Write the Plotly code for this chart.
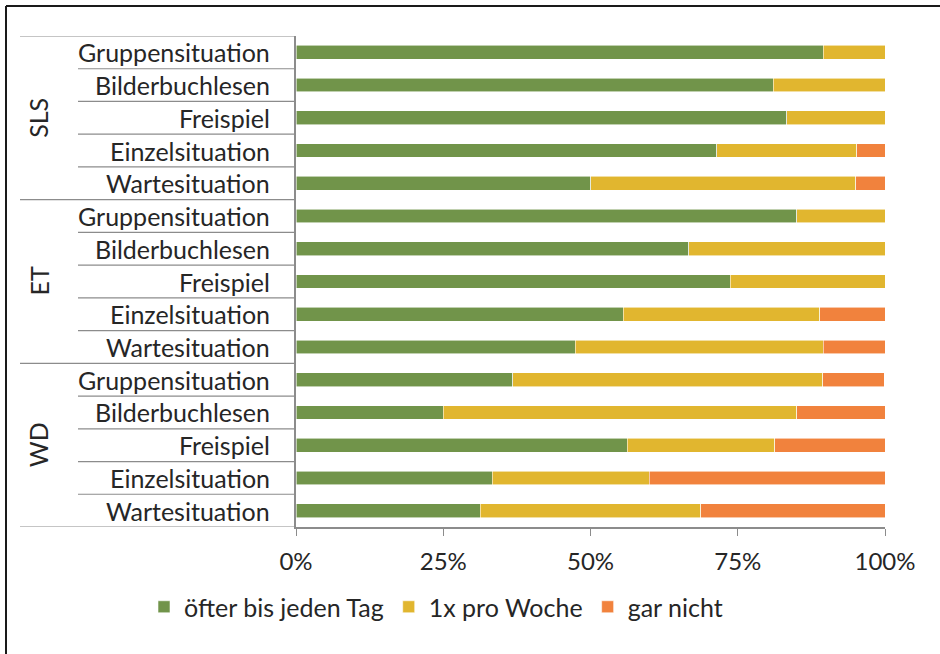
import plotly.graph_objects as go

groups = ["SLS", "ET", "WD"]
situations = ["Gruppensituation", "Bilderbuchlesen", "Freispiel", "Einzelsituation", "Wartesituation"]
series_names = ["öfter bis jeden Tag", "1x pro Woche", "gar nicht"]
colors = ["#71944A", "#E1B62F", "#F1823D"]

# shares per group, in the order of `situations`
taeglich = {
    "SLS": [0.895, 0.810, 0.833, 0.714, 0.500],
    "ET":  [0.850, 0.667, 0.737, 0.556, 0.474],
    "WD":  [0.368, 0.250, 0.5625, 0.333, 0.3125],
}
woechentlich = {
    "SLS": [0.105, 0.190, 0.167, 0.238, 0.450],
    "ET":  [0.150, 0.333, 0.263, 0.333, 0.421],
    "WD":  [0.526, 0.600, 0.250, 0.267, 0.375],
}
gar_nicht = {
    "SLS": [0.000, 0.000, 0.000, 0.048, 0.050],
    "ET":  [0.000, 0.000, 0.000, 0.111, 0.105],
    "WD":  [0.105, 0.150, 0.1875, 0.400, 0.3125],
}
x_ticks = [0, 0.25, 0.5, 0.75, 1.0]
x_tick_labels = ["0%", "25%", "50%", "75%", "100%"]

FONT = "Lato, 'Open Sans', sans-serif"
TEXT = "#262626"
LINE = "#8c8c8c"

rows = []
row_labels = []
for g in groups:
    for s in situations:
        rows.append(len(rows))
        row_labels.append(s)

def flat(d):
    out = []
    for g in groups:
        out.extend(d[g])
    return out

fig = go.Figure()
for name, col, data in zip(series_names, colors, [taeglich, woechentlich, gar_nicht]):
    fig.add_trace(go.Bar(
        y=rows, x=flat(data), name=name, orientation="h",
        marker=dict(color=col, line=dict(color="rgba(255,255,255,0.7)", width=0.8)),
    ))

# geometry (pixels)
W, H = 940, 654
L, R, T, B = 296, 55, 36, 127
pw = W - L - R
ph = H - T - B

def px_to_paper_x(px):
    return (px - L) / pw

def px_to_paper_y(py):
    return (H - B - py) / ph

annotations = []
for r, lab in zip(rows, row_labels):
    annotations.append(dict(
        x=px_to_paper_x(272), xref="paper", y=r, yref="y",
        text=lab, showarrow=False, xanchor="right", yanchor="middle",
        font=dict(family=FONT, size=25, color=TEXT),
    ))
n = len(situations)
for gi, g in enumerate(groups):
    annotations.append(dict(
        x=px_to_paper_x(38), xref="paper", y=gi * n + (n - 1) / 2, yref="y",
        text=g, showarrow=False, textangle=-90, xanchor="center", yanchor="middle",
        font=dict(family=FONT, size=25, color=TEXT),
    ))

shapes = []
for b in range(len(rows) + 1):
    yb = b - 0.5
    x0 = px_to_paper_x(20) if b % n == 0 else px_to_paper_x(78)
    shapes.append(dict(type="line", xref="paper", yref="y", x0=x0, x1=0,
                       y0=yb, y1=yb, line=dict(color=LINE, width=1.2)))
# outer frame (left and top visible)
shapes.append(dict(type="line", xref="paper", yref="paper",
                   x0=px_to_paper_x(6), x1=px_to_paper_x(945),
                   y0=px_to_paper_y(6), y1=px_to_paper_y(6),
                   line=dict(color="#1a1a1a", width=2)))
shapes.append(dict(type="line", xref="paper", yref="paper",
                   x0=px_to_paper_x(6), x1=px_to_paper_x(6),
                   y0=px_to_paper_y(6), y1=px_to_paper_y(660),
                   line=dict(color="#1a1a1a", width=2)))

fig.update_layout(
    width=W, height=H,
    margin=dict(l=L, r=R, t=T, b=B),
    barmode="stack", bargap=0.58,
    plot_bgcolor="white", paper_bgcolor="white",
    font=dict(family=FONT, size=24, color=TEXT),
    showlegend=True,
    legend=dict(orientation="h", x=px_to_paper_x(436), xanchor="center",
                y=px_to_paper_y(607), yanchor="middle",
                font=dict(family=FONT, size=25, color=TEXT),
                traceorder="normal", itemclick=False),
    annotations=annotations,
    shapes=shapes,
)
fig.update_xaxes(range=[0, 1], tickvals=x_ticks, ticktext=x_tick_labels,
                 showgrid=False, zeroline=False, showline=True, linecolor=LINE, linewidth=1.5,
                 ticks="outside", ticklen=7, tickcolor=LINE, tickwidth=1.2,
                 ticklabelstandoff=5, tickfont=dict(family=FONT, size=24, color=TEXT))
fig.update_yaxes(range=[len(rows) - 0.5, -0.5], showticklabels=False, showgrid=False,
                 zeroline=False, showline=True, linecolor=LINE, linewidth=1.5, ticks="")

fig.write_html("out.html", config={"displayModeBar": False},
               post_script="document.body.style.margin='0';document.body.style.overflow='hidden';")
